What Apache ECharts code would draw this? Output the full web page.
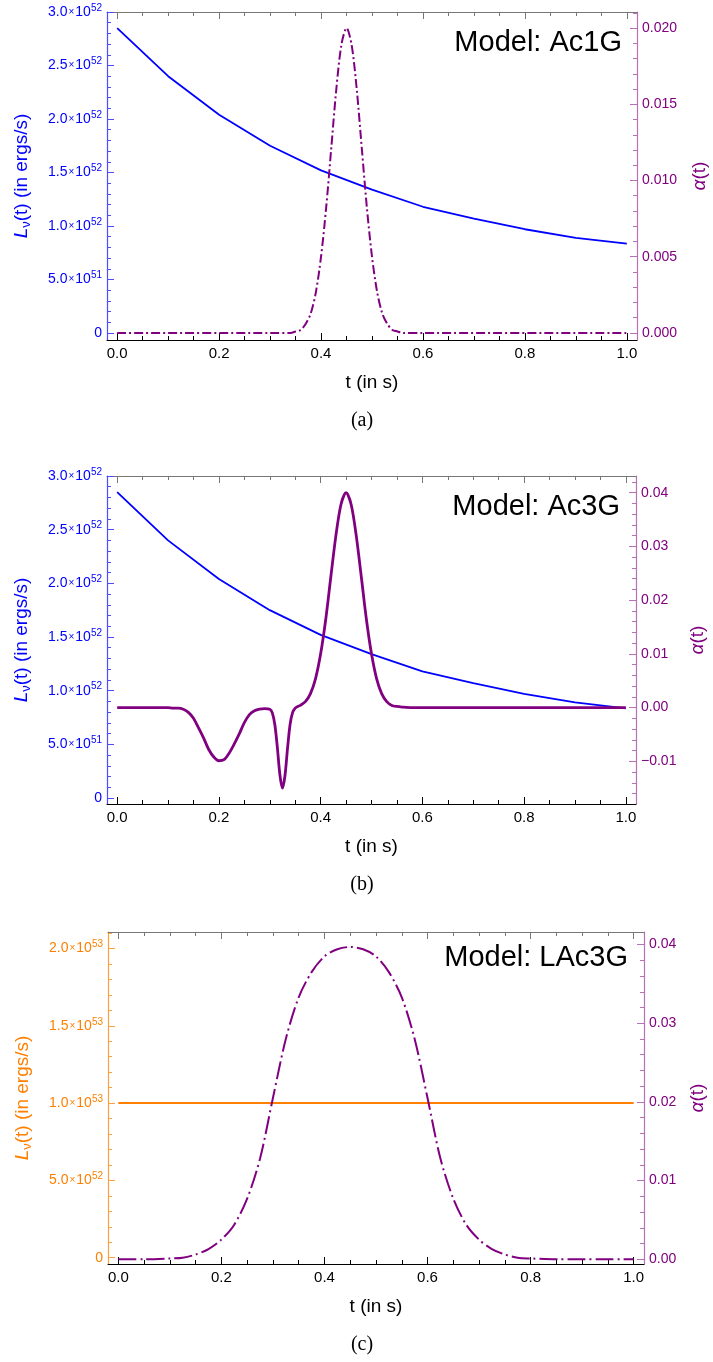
<!DOCTYPE html>
<html><head><meta charset="utf-8">
<script src="https://cdn.jsdelivr.net/npm/echarts@6/dist/echarts.min.js"></script>
<style>html,body{margin:0;padding:0;background:#fff}#c{width:713px;height:1362px}</style>
</head><body><div id="c"></div>
<script>
// ---------------- data ----------------
// Luminosity (ergs/s), models Ac1G / Ac3G
const tL = [0, 0.1, 0.2, 0.3, 0.4, 0.5, 0.6, 0.7, 0.8, 0.9, 1.0];
const L_Ac = [2.85e52, 2.40e52, 2.04e52, 1.75e52, 1.52e52, 1.34e52, 1.18e52, 1.07e52, 0.97e52, 0.89e52, 0.835e52];
// Luminosity, model LAc3G
const tLC = [0, 1.0];
const L_LAc = [1.0e53, 1.0e53];

// alpha(t), model Ac1G
const tAlphaA = [0, 0.30, 0.34, 0.35, 0.36, 0.37, 0.38, 0.39, 0.40, 0.41, 0.42, 0.43, 0.44, 0.45,
  0.46, 0.47, 0.48, 0.49, 0.50, 0.51, 0.52, 0.53, 0.54, 0.55, 0.56, 0.60, 1.0];
const alphaA = [0, 0, 0, 0.0001, 0.0002, 0.0006, 0.0013, 0.0027, 0.0050, 0.0082, 0.0121, 0.0160, 0.0189, 0.0200,
  0.0189, 0.0160, 0.0121, 0.0082, 0.0050, 0.0027, 0.0013, 0.0006, 0.0002, 0.0001, 0, 0, 0];

// alpha(t), model Ac3G
const tAlphaB = [0, 0.05, 0.10, 0.11, 0.12, 0.13, 0.14, 0.15, 0.16, 0.17, 0.18, 0.19, 0.20, 0.21, 0.22, 0.23,
  0.24, 0.25, 0.26, 0.27, 0.28, 0.29, 0.30, 0.305, 0.31, 0.315, 0.32, 0.325, 0.33, 0.335, 0.34, 0.345, 0.35,
  0.355, 0.36, 0.37, 0.38, 0.39, 0.40, 0.41, 0.42, 0.43, 0.44, 0.45, 0.46, 0.47, 0.48, 0.49, 0.50, 0.51, 0.52,
  0.53, 0.54, 0.55, 0.56, 0.58, 0.60, 0.70, 0.80, 0.90, 1.00];
const alphaB = [0, 0, 0, -0.0001, -0.0001, -0.0003, -0.0009, -0.0020, -0.0038, -0.0057, -0.0078, -0.0092, -0.0099,
  -0.0097, -0.0085, -0.0068, -0.0049, -0.0028, -0.0013, -0.0006, -0.0003, -0.0002, -0.0003, -0.0010, -0.0032,
  -0.0075, -0.0126, -0.0150, -0.0126, -0.0075, -0.0031, -0.0009, -0.0001, 0.0002, 0.0004, 0.0011, 0.0026, 0.0054,
  0.0100, 0.0164, 0.0243, 0.0320, 0.0378, 0.0400, 0.0378, 0.0320, 0.0243, 0.0164, 0.0100, 0.0054, 0.0026,
  0.0011, 0.0004, 0.0002, 0.0001, 0, 0, 0, 0, 0, 0];

// alpha(t), model LAc3G
const tAlphaC = [0, 0.05, 0.10, 0.125, 0.15, 0.175, 0.20, 0.225, 0.25, 0.275, 0.30, 0.325, 0.35, 0.375, 0.40,
  0.425, 0.45, 0.475, 0.50, 0.525, 0.55, 0.575, 0.60, 0.625, 0.65, 0.675, 0.70, 0.725, 0.75, 0.775, 0.80,
  0.85, 0.90, 0.95, 1.00];
const alphaC = [0, 0, 0.0001, 0.0002, 0.0006, 0.0013, 0.0025, 0.0044, 0.0077, 0.0128, 0.0205, 0.0280, 0.0333,
  0.0365, 0.0385, 0.0394, 0.0397, 0.0394, 0.0385, 0.0365, 0.0333, 0.0280, 0.0205, 0.0128, 0.0077, 0.0044,
  0.0025, 0.0013, 0.0006, 0.0002, 0.0001, 0, 0, 0, 0];

// tick labels
const tTicks = [0, 0.2, 0.4, 0.6, 0.8, 1.0];
const LTicksAB = [0, 5e51, 1e52, 1.5e52, 2e52, 2.5e52, 3e52];
const LTicksC = [0, 5e52, 1e53, 1.5e53, 2e53];
const aTicksA = [0, 0.005, 0.010, 0.015, 0.020];
const aTicksB = [-0.01, 0, 0.01, 0.02, 0.03, 0.04];
const aTicksC = [0, 0.01, 0.02, 0.03, 0.04];

// ---------------- helpers ----------------
const FONT = '"Liberation Sans", Arial, sans-serif';
const BLUE = '#0000FF', PURPLE = '#800080', ORANGE = '#FF8000';
const BLUE_AX = '#4d4dff', PURPLE_AX = '#b870b8', ORANGE_AX = '#ffa040';

function seq(a, b, step) { const r = []; const n = Math.round((b - a) / step); for (let i = 0; i <= n; i++) r.push(+(a + i * step).toPrecision(12)); return r; }
function zip(ts, vs) { return ts.map((t, i) => [t, vs[i]]); }
const tMinor = seq(0, 1, 0.05);

function sci(v) {
  if (v === 0) return '{m|0}';
  const e = Math.floor(Math.log10(v) + 1e-9);
  const m = v / Math.pow(10, e);
  return '{m|' + m.toFixed(1) + '}{x|×}{m|10}{s|' + e + '}';
}
const sciRich = {
  m: { fontSize: 14, lineHeight: 18, fontFamily: FONT },
  x: { fontSize: 10, lineHeight: 18, fontFamily: FONT, padding: [0, 1, 0, 1] },
  s: { fontSize: 10, lineHeight: 10, verticalAlign: 'top', fontFamily: FONT }
};

function xAxes(g) {
  const base = { gridIndex: g, type: 'value', min: -0.02, max: 1.02, splitLine: { show: false } };
  return [
    Object.assign({}, base, { position: 'bottom', axisLine: { show: true, onZero: false, lineStyle: { color: '#000', width: 1 } },
      axisTick: { show: true, inside: true, length: 7, customValues: tTicks, lineStyle: { color: '#000' } },
      axisLabel: { show: true, customValues: tTicks, formatter: v => v.toFixed(1), fontSize: 15, fontFamily: FONT, color: '#000', margin: 6 } }),
    Object.assign({}, base, { position: 'bottom', axisLine: { show: false, onZero: false },
      axisTick: { show: true, inside: true, length: 4, customValues: tMinor, lineStyle: { color: '#000' } }, axisLabel: { show: false } }),
    Object.assign({}, base, { position: 'top', axisLine: { show: true, onZero: false, lineStyle: { color: '#777' } },
      axisTick: { show: true, inside: true, length: 7, customValues: tTicks, lineStyle: { color: '#777' } }, axisLabel: { show: false } }),
    Object.assign({}, base, { position: 'top', axisLine: { show: false, onZero: false },
      axisTick: { show: true, inside: true, length: 4, customValues: tMinor, lineStyle: { color: '#777' } }, axisLabel: { show: false } })
  ];
}

function yAxes(g, c) {
  const L = { gridIndex: g, type: 'value', min: c.lmin, max: c.lmax, position: 'left', splitLine: { show: false } };
  const R = { gridIndex: g, type: 'value', min: c.rmin, max: c.rmax, position: 'right', splitLine: { show: false } };
  return [
    Object.assign({}, L, { axisLine: { show: true, onZero: false, lineStyle: { color: c.lAx, width: 1.2 } },
      axisTick: { show: true, inside: true, length: 7, customValues: c.lTicks, lineStyle: { color: c.lAx } },
      axisLabel: { show: true, customValues: c.lTicks, formatter: sci, rich: sciRich, color: c.lCol, fontFamily: FONT, margin: 5 } }),
    Object.assign({}, L, { axisLine: { show: false, onZero: false },
      axisTick: { show: true, inside: true, length: 4, customValues: c.lMinor, lineStyle: { color: c.lAx } }, axisLabel: { show: false } }),
    Object.assign({}, R, { axisLine: { show: true, onZero: false, lineStyle: { color: PURPLE_AX, width: 1.2 } },
      axisTick: { show: true, inside: true, length: 7, customValues: c.rTicks, lineStyle: { color: PURPLE_AX } },
      axisLabel: { show: true, customValues: c.rTicks, formatter: c.rFmt, color: PURPLE, fontSize: 14, fontFamily: FONT, margin: 5 } }),
    Object.assign({}, R, { axisLine: { show: false, onZero: false },
      axisTick: { show: true, inside: true, length: 4, customValues: c.rMinor, lineStyle: { color: PURPLE_AX } }, axisLabel: { show: false } })
  ];
}

const fmt3 = v => v.toFixed(3);
const fmt2 = v => v.toFixed(2).replace('-', '\u2212');

const option = {
  animation: false,
  backgroundColor: '#fff',
  grid: [
    { left: 107, top: 12, width: 530, height: 328, containLabel: false, outerBoundsMode: 'none' },
    { left: 107, top: 476, width: 529, height: 328, containLabel: false, outerBoundsMode: 'none' },
    { left: 108, top: 932, width: 536, height: 332, containLabel: false, outerBoundsMode: 'none' }
  ],
  xAxis: [].concat(xAxes(0), xAxes(1), xAxes(2)),
  yAxis: [].concat(
    yAxes(0, { lmin: -0.065e52, lmax: 3.0e52, lTicks: LTicksAB, lMinor: seq(0, 3e52, 1e51), lCol: BLUE, lAx: BLUE_AX,
      rmin: -0.00046, rmax: 0.02105, rTicks: aTicksA, rMinor: seq(0, 0.021, 0.001), rFmt: fmt3 }),
    yAxes(1, { lmin: -0.056e52, lmax: 3.0e52, lTicks: LTicksAB, lMinor: seq(0, 3e52, 1e51), lCol: BLUE, lAx: BLUE_AX,
      rmin: -0.01795, rmax: 0.0431, rTicks: aTicksB, rMinor: seq(-0.016, 0.042, 0.002), rFmt: fmt2 }),
    yAxes(2, { lmin: -0.041e53, lmax: 2.107e53, lTicks: LTicksC, lMinor: seq(0, 2.1e53, 1e52), lCol: ORANGE, lAx: ORANGE_AX,
      rmin: -0.0006, rmax: 0.0416, rTicks: aTicksC, rMinor: seq(0, 0.040, 0.002), rFmt: fmt2 })
  ),
  series: [
    { type: 'line', xAxisIndex: 0, yAxisIndex: 0, data: zip(tL, L_Ac), symbol: 'none', lineStyle: { color: BLUE, width: 1.8 } },
    { type: 'line', xAxisIndex: 0, yAxisIndex: 2, data: zip(tAlphaA, alphaA), symbol: 'none', smooth: 0.3,
      lineStyle: { color: PURPLE, width: 2, type: [9, 3, 2, 3] } },
    { type: 'line', xAxisIndex: 4, yAxisIndex: 4, data: zip(tL, L_Ac), symbol: 'none', lineStyle: { color: BLUE, width: 1.8 } },
    { type: 'line', xAxisIndex: 4, yAxisIndex: 6, data: zip(tAlphaB, alphaB), symbol: 'none', smooth: 0.3,
      lineStyle: { color: PURPLE, width: 2.8 } },
    { type: 'line', xAxisIndex: 8, yAxisIndex: 8, data: zip(tLC, L_LAc), symbol: 'none', lineStyle: { color: ORANGE, width: 2 } },
    { type: 'line', xAxisIndex: 8, yAxisIndex: 10, data: zip(tAlphaC, alphaC), symbol: 'none', smooth: 0.3,
      lineStyle: { color: PURPLE, width: 2, type: [18, 4, 2, 4] } }
  ],
  graphic: []
};

function addTexts(xc, xTitleY, lx, rx, midY, modelX, modelY, model, lColor, capY, capText) {
  const g = option.graphic;
  g.push({ type: 'text', x: xc, y: xTitleY, style: { text: 't (in s)', fontSize: 19, fontFamily: FONT, fill: '#000', align: 'center', verticalAlign: 'middle' } });
  g.push({ type: 'text', x: lx, y: midY, rotation: Math.PI / 2, style: {
    text: '{L|L}{nu|\u03bd}{t|(t) (in ergs/s)}', fill: lColor, align: 'center', verticalAlign: 'middle',
    rich: { L: { fontSize: 19, lineHeight: 22, fontStyle: 'italic', fontFamily: FONT, fill: lColor },
            nu: { fontSize: 13, lineHeight: 13, verticalAlign: 'bottom', fontFamily: FONT, fill: lColor },
            t: { fontSize: 19, lineHeight: 22, fontFamily: FONT, fill: lColor } } } });
  g.push({ type: 'text', x: rx, y: midY, rotation: Math.PI / 2, style: {
    text: '{a|\u03b1}{t|(t)}', fill: PURPLE, align: 'center', verticalAlign: 'middle',
    rich: { a: { fontSize: 19, lineHeight: 22, fontStyle: 'italic', fontFamily: FONT, fill: PURPLE },
            t: { fontSize: 19, lineHeight: 22, fontFamily: FONT, fill: PURPLE } } } });
  g.push({ type: 'text', x: modelX, y: modelY, style: { text: model, fontSize: 29, fontFamily: FONT, fill: '#000', align: 'right', verticalAlign: 'middle' } });
  g.push({ type: 'text', x: 362, y: capY, style: { text: capText, fontSize: 20, fontFamily: '"Liberation Serif", "DejaVu Serif", serif', fill: '#000', align: 'center', verticalAlign: 'middle' } });
}
addTexts(372, 383, 22, 700, 176, 622, 43, 'Model: Ac1G', BLUE, 421, '(a)');
addTexts(371.5, 847, 22, 698, 640, 620, 507, 'Model: Ac3G', BLUE, 885, '(b)');
addTexts(376, 1307, 23, 698, 1098, 628, 958, 'Model: LAc3G', ORANGE, 1345, '(c)');

const chart = echarts.init(document.getElementById('c'), null, { renderer: 'canvas' });
chart.setOption(option);
</script>
</body></html>
